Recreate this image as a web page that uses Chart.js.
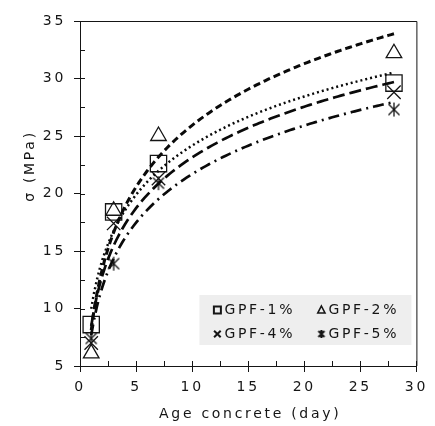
<!DOCTYPE html>
<html>
<head>
<meta charset="utf-8">
<script src="https://cdn.jsdelivr.net/npm/chart.js@4.4.1/dist/chart.umd.min.js"></script>
<style>
  html, body { margin: 0; padding: 0; background: #fff; }
</style>
</head>
<body>
<canvas id="chart" width="435" height="426"></canvas>
<script>
// measured strength (MPa) at each age (days)
const days = [1, 3, 7, 28];
const gpf1 = [8.6, 18.4, 22.6, 29.6];
const gpf2 = [6.1, 18.5, 25.0, 32.2];
const gpf4 = [7.0, 17.4, 21.3, 28.8];
const gpf5 = [7.4, 13.9, 20.9, 27.3];
const seriesNames = ['GPF-1%', 'GPF-2%', 'GPF-4%', 'GPF-5%'];

const ink = '#151515';
const font = '"DejaVu Sans", sans-serif';
const spacing = '2.7px';

// logarithmic trendline (least squares on ln x), as in the source figure
function logTrend(ys) {
  const lx = days.map(Math.log);
  const mx = lx.reduce((s, v) => s + v, 0) / lx.length;
  const my = ys.reduce((s, v) => s + v, 0) / ys.length;
  let sxy = 0, sxx = 0;
  lx.forEach((v, i) => { sxy += (v - mx) * (ys[i] - my); sxx += (v - mx) * (v - mx); });
  const a = sxy / sxx, b = my - a * mx;
  const pts = [];
  for (let x = days[0]; x <= days[days.length - 1] + 0.001; x += 0.25) {
    pts.push({ x: x, y: a * Math.log(x) + b });
  }
  return pts;
}

function starMark(size, lw) {
  const c = document.createElement('canvas');
  c.width = c.height = size;
  const g = c.getContext('2d');
  g.strokeStyle = ink;
  g.lineWidth = lw;
  const h = size / 2, d = size / 2 - 1.5;
  g.beginPath();
  g.moveTo(h, h - d - 0.5); g.lineTo(h, h + d + 0.5);
  g.moveTo(h - d * 0.85, h - d * 0.85); g.lineTo(h + d * 0.85, h + d * 0.85);
  g.moveTo(h + d * 0.85, h - d * 0.85); g.lineTo(h - d * 0.85, h + d * 0.85);
  g.stroke();
  return c;
}

const pairs = ys => days.map((d, i) => ({ x: d, y: ys[i] }));

function markSet(label, ys, style, r) {
  return {
    label: label, data: pairs(ys), showLine: false,
    pointStyle: style, pointRadius: r, pointBorderWidth: 1.3,
    pointBorderColor: ink, pointBackgroundColor: 'rgba(0,0,0,0)'
  };
}

function trendSet(ys, dash, w) {
  return {
    label: '', data: logTrend(ys), showLine: true, pointRadius: 0,
    borderColor: '#0a0a0a', borderWidth: w, borderDash: dash, tension: 0, fill: false
  };
}

const extras = {
  id: 'extras',
  beforeUpdate(chart) { chart.ctx.letterSpacing = spacing; },
  beforeDraw(chart) { chart.ctx.letterSpacing = spacing; },
  afterDraw(chart) {
    const ctx = chart.ctx, ca = chart.chartArea;
    const xs = chart.scales.x, ys = chart.scales.y;
    ctx.save();
    ctx.strokeStyle = ink;
    ctx.lineWidth = 1;
    ctx.beginPath();
    // frame top and right
    ctx.moveTo(ca.left, ca.top + 0.5); ctx.lineTo(ca.right + 0.5, ca.top + 0.5);
    ctx.lineTo(ca.right + 0.5, ca.bottom);
    // inward ticks, major and minor
    for (let v = xs.min; v <= xs.max; v += 2.5) {
      const px = Math.round(xs.getPixelForValue(v)) + 0.5;
      ctx.moveTo(px, ca.bottom); ctx.lineTo(px, ca.bottom - 5);
    }
    for (let v = ys.min; v <= ys.max; v += 2.5) {
      const py = Math.round(ys.getPixelForValue(v)) + 0.5;
      ctx.moveTo(ca.left, py); ctx.lineTo(ca.left + 5, py);
    }
    ctx.stroke();

    // axis titles
    ctx.fillStyle = ink;
    ctx.font = '14px ' + font;
    ctx.letterSpacing = spacing;
    ctx.textAlign = 'center';
    ctx.textBaseline = 'middle';
    ctx.fillText('Age concrete (day)', (ca.left + ca.right) / 2 + 2, 414);
    ctx.save();
    ctx.translate(30, 166);
    ctx.rotate(-Math.PI / 2);
    ctx.fillText('σ (MPa)', 0, 0);
    ctx.restore();

    // legend box inside the plot
    const lx = ca.right - 217, ly = ca.bottom - 71;
    ctx.fillStyle = '#eeeeee';
    ctx.fillRect(lx, ly, 212, 50);
    const cols = [lx + 18, lx + 122], rows = [ly + 15, ly + 39];
    ctx.strokeStyle = ink;
    ctx.fillStyle = ink;
    ctx.textAlign = 'left';
    seriesNames.forEach((name, i) => {
      const cx = cols[i % 2], cy = rows[Math.floor(i / 2)];
      ctx.lineWidth = 2;
      ctx.beginPath();
      if (i === 0) {
        ctx.rect(cx - 3.5, cy - 3.5, 7, 7);
      } else if (i === 1) {
        ctx.lineWidth = 1.6;
        ctx.moveTo(cx, cy - 4); ctx.lineTo(cx + 3.6, cy + 3); ctx.lineTo(cx - 3.6, cy + 3); ctx.closePath();
      } else if (i === 2) {
        ctx.moveTo(cx - 3.3, cy - 3.3); ctx.lineTo(cx + 3.3, cy + 3.3);
        ctx.moveTo(cx + 3.3, cy - 3.3); ctx.lineTo(cx - 3.3, cy + 3.3);
      }
      ctx.stroke();
      if (i === 3) ctx.drawImage(starMark(10, 2), cx - 5, cy - 5);
      ctx.fillText(name, cx + 7, cy);
    });
    ctx.restore();
  }
};

new Chart(document.getElementById('chart'), {
  type: 'scatter',
  data: {
    datasets: [
      trendSet(gpf2, [7, 4], 3),
      trendSet(gpf1, [2, 3], 2.5),
      trendSet(gpf4, [12, 5], 2.7),
      trendSet(gpf5, [11, 5, 2, 5], 2.7),
      markSet(seriesNames[0], gpf1, 'rect', 11.5),
      markSet(seriesNames[1], gpf2, 'triangle', 9),
      markSet(seriesNames[2], gpf4, 'crossRot', 9.5),
      markSet(seriesNames[3], gpf5, starMark(16, 1.3), 8)
    ]
  },
  options: {
    responsive: false,
    animation: false,
    events: [],
    layout: { padding: { top: 21, right: 13, left: 0, bottom: 0 } },
    plugins: { legend: { display: false }, tooltip: { enabled: false } },
    scales: {
      x: {
        type: 'linear', min: 0, max: 30,
        ticks: { stepSize: 5, color: ink, font: { family: font, size: 14 }, padding: 7, maxRotation: 0 },
        grid: { display: true, drawOnChartArea: false, drawTicks: true, tickLength: 6, color: ink },
        border: { display: true, color: ink, width: 1 },
        afterFit(s) { s.height = 60; }
      },
      y: {
        type: 'linear', min: 5, max: 35,
        ticks: { stepSize: 5, color: ink, font: { family: font, size: 14 }, padding: 8 },
        grid: { display: true, drawOnChartArea: false, drawTicks: true, tickLength: 6, color: ink },
        border: { display: true, color: ink, width: 1 },
        afterFit(s) { s.width = 80; }
      }
    }
  },
  plugins: [extras]
});
</script>
</body>
</html>
